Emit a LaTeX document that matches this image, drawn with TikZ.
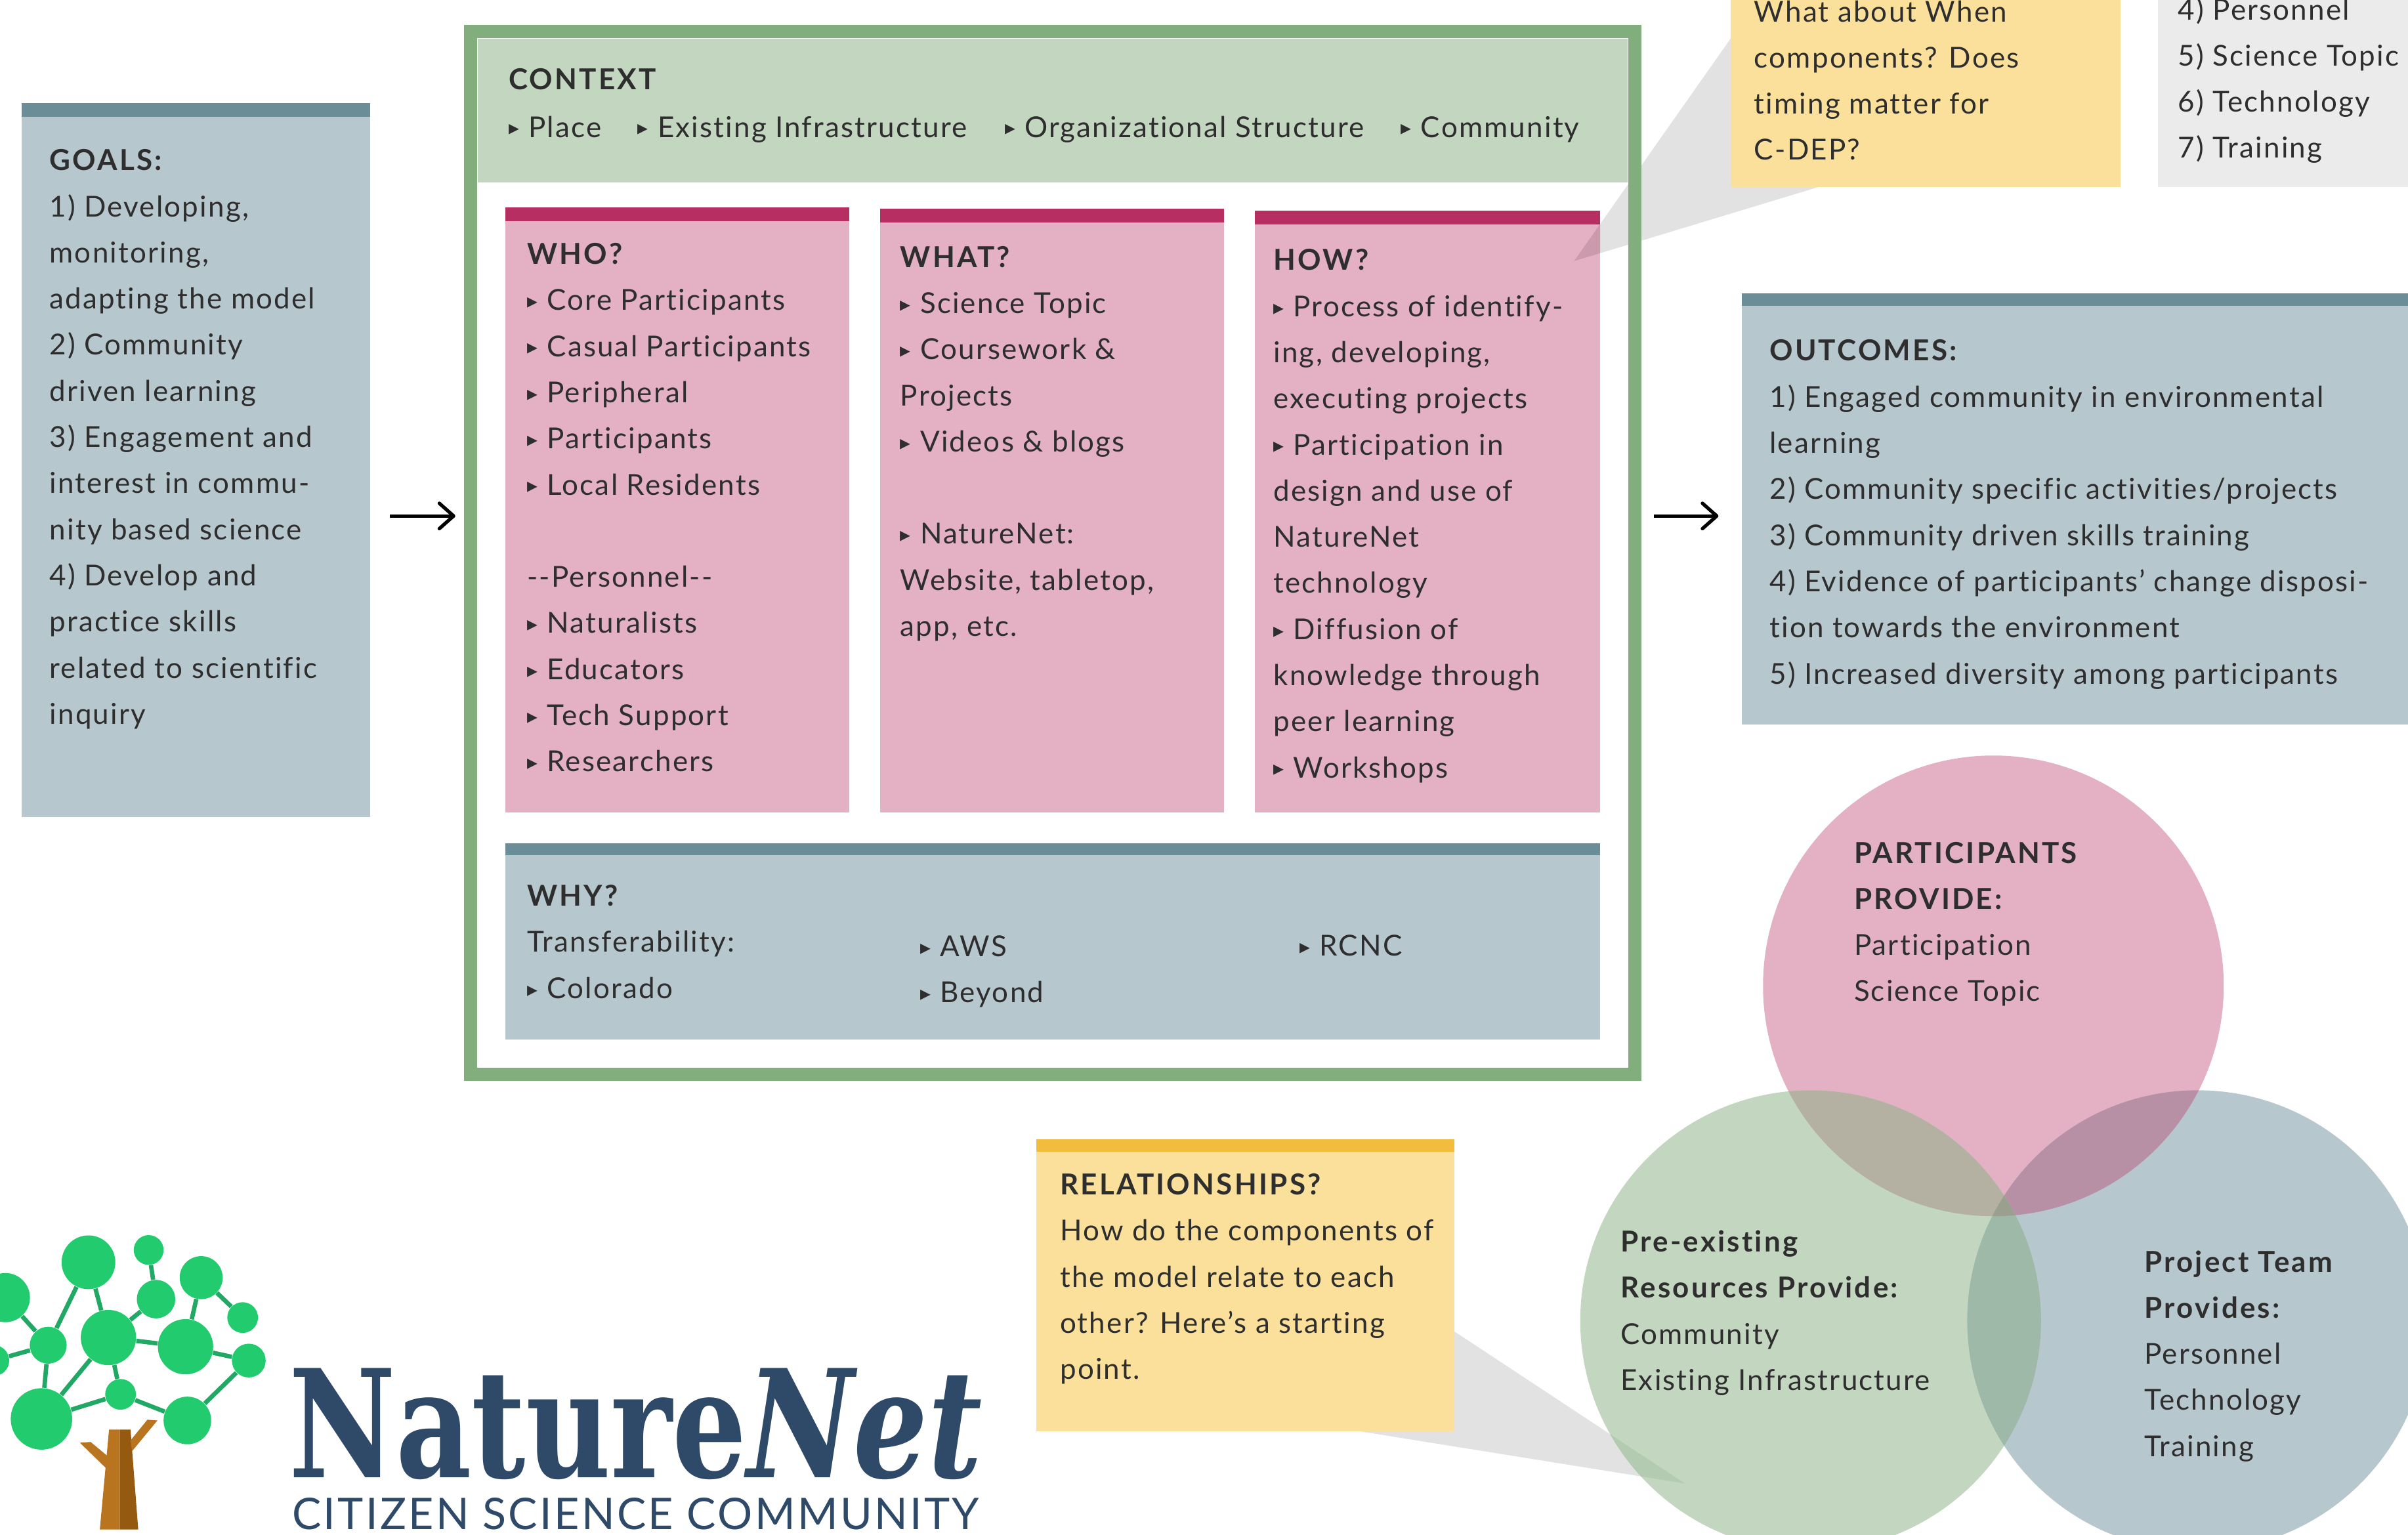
\documentclass[tikz,border=0pt]{standalone}
\usepackage{fontspec}
\setmainfont[LetterSpace=5,Ligatures=NoCommon,BoldFeatures={LetterSpace=7.4}]{Lato}
\newfontfamily\bulfont{DejaVu Sans}
\newfontfamily\logofont{DejaVu Serif}
\usetikzlibrary{arrows.meta,positioning}

\definecolor{framegreen}{HTML}{82AD7C}
\definecolor{palegreen}{HTML}{C3D7C0}
\definecolor{palepink}{HTML}{E3B0C4}
\definecolor{barpink}{HTML}{B72E62}
\definecolor{paleblue}{HTML}{B7C7CE}
\definecolor{barblue}{HTML}{6B8D98}
\definecolor{paleyellow}{HTML}{FAE09B}
\definecolor{baryellow}{HTML}{F2BD3C}
\definecolor{palegrey}{HTML}{EBEBEB}
\definecolor{calloutgrey}{HTML}{E2E2E2}
\definecolor{textgrey}{HTML}{2E2E2E}
\definecolor{logoblue}{HTML}{2F4A68}
\definecolor{leafgreen}{HTML}{22CC6E}
\definecolor{twiggreen}{HTML}{22A865}
\definecolor{pinkgreen}{HTML}{B5B1A2}
\definecolor{pinkblue}{HTML}{B890A6}
\definecolor{greenblue}{HTML}{9FB9A9}
\definecolor{allthree}{HTML}{9A9F90}
\definecolor{wedgepink}{HTML}{CB9AAD}
\definecolor{wedgegreen}{HTML}{B3CBB0}
\definecolor{barklight}{HTML}{B8741F}
\definecolor{barkdark}{HTML}{955A10}

\def\un{0.234mm}
\newcommand{\bl}{\makebox[8.6pt][l]{\raisebox{0.9pt}{\bulfont\fontsize{9}{9}\selectfont ▸}}}

\tikzset{
  size/.style 2 args={minimum width=#1*\un,minimum height=#2*\un},
  panel/.style={anchor=north west,inner sep=0pt,outer sep=0pt,fill=#1},
  tag/.style={anchor=north west,inner sep=0pt,align=left,text=textgrey,
              font=\fontsize{12.5}{20}\selectfont,
              execute at begin node=\strut},
  leaf/.style={circle,fill=leafgreen,inner sep=0pt},
  twig/.style={twiggreen,line width=1.9pt},
  flow/.style={-{Straight Barb[length=6.2pt,width=11pt,round]},line width=1.5pt,black},
  disc/.style={circle,inner sep=0pt,outer sep=0pt,minimum size=300*\un,fill=#1}
}

\begin{document}
\begin{tikzpicture}[x=\un,y=-\un]
  \useasboundingbox (0,0) rectangle (1568,999.6);

  % goals
  \node[panel=paleblue,size={227}{465}] (goals) at (14,67) {};
  \node[panel=barblue,size={227}{9}] (goalsbar) at (goals.north west) {};
  \node[tag] (goalstext) at (32,97) {\textbf{GOALS:}\\1) Developing,\\monitoring,\\adapting the model\\2) Community\\driven learning\\3) Engagement and\\interest in commu-\\nity based science\\4) Develop and\\practice skills\\related to scientific\\inquiry};

  % frame
  \node[panel=white,draw=framegreen,line width=5.6pt,size={758}{679},anchor=center] (frame) at (685.5,360) {};
  \fill[calloutgrey] (1025,170) -- (1127,25) -- (1190,120) -- cycle;
  \node[panel=none,draw=framegreen,line width=5.6pt,size={758}{679},anchor=center] (frameline) at (685.5,360) {};
  \node[panel=palegreen,size={749}{94}] (context) at (311,25) {};
  \node[tag] (contexttitle) at (331,37) {\textbf{CONTEXT}};
  \node[tag] (place) at (331,68) {\bl Place};
  \node[tag] (infra) at (415,68) {\bl Existing Infrastructure};
  \node[tag] (orgs) at (654,68) {\bl Organizational Structure};
  \node[tag] (comm) at (912,68) {\bl Community};

  % who what how
  \node[panel=palepink,size={224}{394}] (who) at (329,135) {};
  \node[panel=barpink,size={224}{9}] (whobar) at (who.north west) {};
  \node[tag] (whotext) at (343,158) {\textbf{WHO?}\\\bl Core Participants\\\bl Casual Participants\\\bl Peripheral\\\bl Participants\\\bl Local Residents\\[20pt]-{}-Personnel-{}-\\\bl Naturalists\\\bl Educators\\\bl Tech Support\\\bl Researchers};

  \node[panel=palepink,size={224}{393}] (what) at (573,136) {};
  \node[panel=barpink,size={224}{9}] (whatbar) at (what.north west) {};
  \node[tag] (whattext) at (586,160) {\textbf{WHAT?}\\\bl Science Topic\\\bl Coursework \&\\Projects\\\bl Videos \& blogs\\[20pt]\bl NatureNet:\\Website, tabletop,\\app, etc.};

  \node[panel=palepink,size={225}{392}] (how) at (817,137) {};
  \begin{scope}
    \clip (817,137) rectangle (1042,529);
    \fill[wedgepink] (1025,170) -- (1127,25) -- (1190,120) -- cycle;
  \end{scope}
  \node[panel=barpink,size={225}{9}] (howbar) at (how.north west) {};
  \node[tag] (howtext) at (829,162) {\textbf{HOW?}\\\bl Process of identify-\\ing, developing,\\executing projects\\\bl Participation in\\design and use of\\NatureNet\\technology\\\bl Diffusion of\\knowledge through\\peer learning\\\bl Workshops};

  % why
  \node[panel=paleblue,size={713}{128}] (why) at (329,549) {};
  \node[panel=barblue,size={713}{8}] (whybar) at (why.north west) {};
  \node[tag] (whytext) at (343,576) {\textbf{WHY?}\\Transferability:\\\bl Colorado};
  \node[tag] (whymid) at (599,609) {\bl AWS\\\bl Beyond};
  \node[tag] (whyright) at (846,601) {\bl RCNC};

  % outcomes
  \node[panel=paleblue,size={434}{281}] (outcomes) at (1134,191) {};
  \node[panel=barblue,size={434}{8}] (outcomesbar) at (outcomes.north west) {};
  \node[tag] (outcomestext) at (1152,221) {\textbf{OUTCOMES:}\\1) Engaged community in environmental\\learning\\2) Community specific activities/projects\\3) Community driven skills training\\4) Evidence of participants' change disposi-\\tion towards the environment\\5) Increased diversity among participants};

  % arrows
  \coordinate (arrowline) at (0,336);
  \draw[flow,shorten <=13*\un,shorten >=10*\un] (goals.east |- arrowline) -- (frame.west |- arrowline);
  \draw[flow,shorten <=12.5*\un,shorten >=15*\un] (frame.east |- arrowline) -- (outcomes.west |- arrowline);

  % top notes
  \node[panel=paleyellow,size={254}{122}] (whennote) at (1127,0) {};
  \node[tag] (whentext) at (1142,0) {What about When\\components? Does\\timing matter for\\C-DEP?};
  \node[panel=palegrey,size={163}{122}] (listnote) at (1405,0) {};
  \node[tag] (listtext) at (1418,-2) {4) Personnel\\5) Science Topic\\6) Technology\\7) Training};

  % relationships
  \fill[calloutgrey] (947,867) -- (1097,966) -- (885,932) -- cycle;
  \node[panel=paleyellow,size={272}{190}] (relations) at (675,742) {};
  \node[panel=baryellow,size={272}{8}] (relationsbar) at (relations.north west) {};
  \node[tag] (relationstext) at (690,764) {\textbf{RELATIONSHIPS?}\\How do the components of\\the model relate to each\\other? Here's a starting\\point.};

  % venn
  \node[disc=palepink] (pink) at (1298,642) {};
  \node[disc=palegreen] (green) at (1179,860) {};
  \node[disc=paleblue] (blue) at (1431,860) {};
  \begin{scope}
    \clip (pink.center) circle (150);
    \fill[pinkblue] (blue.center) circle (150);
  \end{scope}
  \begin{scope}
    \clip (green.center) circle (150);
    \fill[wedgegreen] (947,867) -- (1097,966) -- (885,932) -- cycle;
    \fill[pinkgreen] (pink.center) circle (150);
    \fill[greenblue] (blue.center) circle (150);
    \clip (pink.center) circle (150);
    \fill[allthree] (blue.center) circle (150);
  \end{scope}
  \node[tag] (pinktext) at (1207,548) {\textbf{PARTICIPANTS}\\\textbf{PROVIDE:}\\Participation\\Science Topic};
  \node[tag] (greentext) at (1055,801) {\textbf{Pre-existing}\\\textbf{Resources Provide:}\\Community\\Existing Infrastructure};
  \node[tag] (bluetext) at (1396,814) {\textbf{Project Team}\\\textbf{Provides:}\\Personnel\\Technology\\Training};

  % tree
  \foreach \n/\x/\y/\r in {a/57.6/822/17.5,b/96.8/814/9.7,c/131/832/14,d/101.6/846/12.5,
      e/3.5/845/16,f/158/858/10,g/70.6/871/18,h/120.8/877/18,i/31.4/876/12,
      j/162/886/11,k/27/924/20,l/78.5/908/10,m/122/925/15.5,n/-4/886/10}
    \node[leaf,minimum size=2*\r*\un] (leaf\n) at (\x,\y) {};
  \foreach \p/\q in {a/i,a/g,b/d,d/g,c/h,c/f,e/i,i/n,i/k,g/h,h/j,g/k,g/l,k/l,l/m,j/m}
    \draw[twig] (leaf\p) -- (leaf\q);
  \fill[barklight] (71,931) -- (65,996) -- (78,996) -- (78,931) -- cycle;
  \fill[barkdark] (78,931) -- (85,931) -- (90,996) -- (78,996) -- cycle;
  \fill[barklight] (85,938) -- (96,924.5) -- (102.5,925) -- (86,945) -- cycle;
  \fill[barklight] (70,957) -- (52,939.5) -- (59,939) -- (71,949) -- cycle;

  % logo
  \node[anchor=base west,inner sep=0pt,text depth=0pt,text=logoblue,font=\logofont\bfseries\fontsize{65}{65}\selectfont] (logoname) at (188,962) {\scalebox{0.78}[1]{Nature\textit{Net}}};
  \node[anchor=base west,inner sep=0pt,text height=13pt,text=logoblue,font=\fontsize{18.9}{20}\selectfont] (logosub) at (190,996) {CITIZEN SCIENCE COMMUNITY};
\end{tikzpicture}
\end{document}
